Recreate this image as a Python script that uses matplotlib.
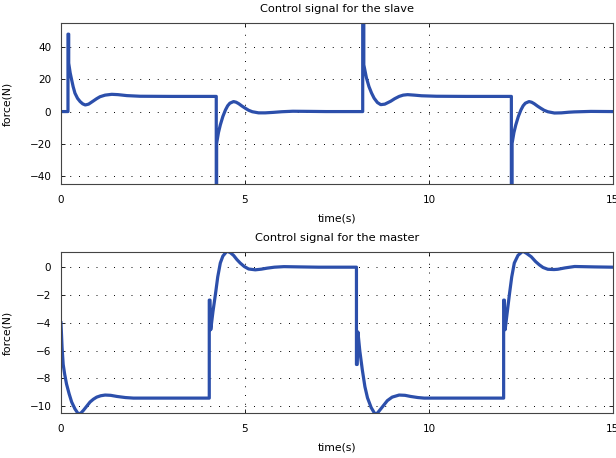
import matplotlib
matplotlib.use("Agg")
import matplotlib.pyplot as plt

plt.rcParams['font.family'] = ['DejaVu Sans']

# slave control signal (force N vs time s)
slave_t = [0, 0.19, 0.19, 0.21, 0.21, 0.25, 0.29, 0.33, 0.38, 0.45, 0.52, 0.59, 0.66, 0.75, 0.88, 0.97,
           1.06, 1.2, 1.38, 1.55, 1.79, 2.15, 3.0,
           4.22, 4.22, 4.23, 4.23, 4.28, 4.33, 4.40, 4.47, 4.53, 4.59, 4.69, 4.76, 4.83, 4.92, 5.0,
           5.1, 5.2, 5.37, 5.55, 5.77, 6.0, 6.3, 6.8, 7.2,
           8.2, 8.2, 8.23, 8.23, 8.30, 8.37, 8.44, 8.51, 8.6, 8.69, 8.8, 8.96, 9.07, 9.19, 9.3, 9.42,
           9.6, 9.8, 10.2, 11.0,
           12.24, 12.24, 12.26, 12.26, 12.31, 12.36, 12.43, 12.5, 12.56, 12.62, 12.72, 12.79, 12.86,
           12.95, 13.03, 13.13, 13.23, 13.41, 13.6, 13.8, 13.95, 14.4, 15.0]
slave_f = [0, 0, 48, 48, 30, 24, 19.7, 15.5, 11.4, 8.2, 6.2, 4.8, 4.1, 4.6, 6.6, 8.0,
           9.2, 10.2, 10.7, 10.5, 9.9, 9.5, 9.4,
           9.4, -60, -60, -19.7, -13, -8.3, -3, 1.0, 3.6, 5.2, 6.2, 5.8, 4.9, 3.4, 2.2,
           0.8, -0.1, -0.8, -0.8, -0.5, -0.1, 0.2, 0.1, 0,
           0, 70, 70, 29, 21, 15.5, 11.5, 8.3, 5.6, 4.3, 4.6, 6.4, 8.0, 9.4, 10.2, 10.5,
           10.2, 9.8, 9.5, 9.4,
           9.4, -60, -60, -19.7, -13, -8.3, -3, 1.0, 3.6, 5.2, 6.2, 5.8, 4.9,
           3.4, 2.2, 0.8, -0.1, -0.9, -0.8, -0.4, -0.2, 0.1, 0]

# master control signal
master_t = [0, 0.03, 0.06, 0.1, 0.15, 0.22, 0.29, 0.38, 0.47, 0.54, 0.61, 0.7, 0.79, 0.88, 0.97,
            1.08, 1.2, 1.35, 1.52, 1.75, 1.97, 3.0,
            4.03, 4.03, 4.05, 4.07, 4.13, 4.2, 4.26, 4.33, 4.4, 4.51, 4.6, 4.69, 4.78, 4.87, 4.98,
            5.1, 5.28, 5.45, 5.6, 5.8, 6.06, 6.5, 7.0,
            8.03, 8.03, 8.05, 8.07, 8.12, 8.19, 8.26, 8.33, 8.43, 8.53, 8.6, 8.69, 8.78, 8.87, 9.0,
            9.19, 9.35, 9.5, 9.7, 9.87, 11.0,
            12.03, 12.03, 12.05, 12.07, 12.13, 12.19, 12.25, 12.32, 12.42, 12.55, 12.65, 12.78, 12.9,
            13.0, 13.1, 13.23, 13.4, 13.5, 13.7, 13.96, 14.5, 15.0]
master_f = [-4.0, -5.8, -7.0, -7.7, -8.4, -9.1, -9.7, -10.2, -10.55, -10.5, -10.3, -10.0, -9.7, -9.5, -9.35,
            -9.25, -9.2, -9.22, -9.3, -9.38, -9.42, -9.42,
            -9.42, -2.37, -2.37, -4.5, -3.2, -1.9, -0.7, 0.3, 0.8, 1.15, 1.05, 0.85, 0.55, 0.3, 0.05,
            -0.13, -0.19, -0.14, -0.07, 0.0, 0.04, 0.02, 0,
            0, -7.0, -7.0, -4.66, -6.0, -7.4, -8.6, -9.4, -10.1, -10.55, -10.5, -10.2, -9.9, -9.6, -9.35,
            -9.2, -9.22, -9.3, -9.38, -9.42, -9.42,
            -9.42, -2.37, -2.37, -4.5, -3.2, -1.9, -0.7, 0.3, 0.85, 1.15, 1.0, 0.75, 0.4,
            0.17, -0.02, -0.15, -0.17, -0.15, -0.05, 0.05, 0.02, 0]

x_ticks = [0, 5, 10, 15]
slave_yticks = [-40, -20, 0, 20, 40]
master_yticks = [-10, -8, -6, -4, -2, 0]

blue = '#2c4fab'

fig = plt.figure(figsize=(6.16, 4.58), dpi=100)
ax1 = fig.add_axes([0.099, 0.598, 0.896, 0.352])
ax2 = fig.add_axes([0.099, 0.098, 0.896, 0.352])

panels = [
    (ax1, slave_t, slave_f, slave_yticks, (-45, 55), 'Control signal for the slave'),
    (ax2, master_t, master_f, master_yticks, (-10.5, 1.1), 'Control signal for the master'),
]
for ax, t, f, yt, yl, title in panels:
    ax.plot(t, f, color=blue, lw=2.3, solid_joinstyle='round')
    ax.set_xlim(0, 15)
    ax.set_ylim(*yl)
    ax.set_xticks(x_ticks)
    ax.set_yticks(yt)
    ax.grid(True, color='black', linestyle=(0, (1, 8)), linewidth=0.7)
    ax.tick_params(axis='y', direction='in', length=3, width=0.6, labelsize=7.5, right=True, pad=7)
    ax.tick_params(axis='x', direction='in', length=3, width=0.6, labelsize=7.5, top=True, pad=8)
    for s in ax.spines.values():
        s.set_linewidth(0.8)
        s.set_color('#444444')
    ax.set_title(title, fontsize=8.2, pad=8)
    ax.set_xlabel('time(s)', fontsize=7.8, labelpad=6)
    ax.set_ylabel('force(N)', fontsize=7.8)
    ax.yaxis.set_label_coords(-0.088, 0.5)

fig.savefig('out.png', dpi=100)
